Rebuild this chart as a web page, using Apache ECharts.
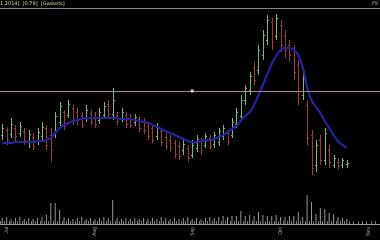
<!DOCTYPE html>
<html><head><meta charset="utf-8">
<script src="https://cdn.jsdelivr.net/npm/echarts@6/dist/echarts.min.js"></script>
<style>html,body{margin:0;padding:0;background:#000;overflow:hidden}#c{width:380px;height:240px}</style>
</head><body><div id="c"></div>
<script>
const slotCount = 86;
const highs  = [1.21,1.18,1.27,1.20,1.23,1.17,1.15,1.12,1.17,1.23,1.20,1.17,1.33,1.43,1.35,1.45,1.40,1.37,1.33,1.40,1.35,1.33,1.37,1.43,1.45,1.57,1.33,1.37,1.33,1.31,1.31,1.29,1.27,1.23,1.20,1.22,1.17,1.12,1.10,1.05,1.03,1.05,1.00,1.05,1.10,1.07,1.12,1.10,1.13,1.17,1.20,1.15,1.27,1.37,1.50,1.60,1.73,1.83,2.00,2.15,2.30,2.27,2.31,2.25,2.15,2.05,2.00,1.85,1.73,1.45,1.15,1.05,1.10,1.17,1.00,0.90,0.87,0.87,0.85];
const lows   = [1.05,1.00,1.07,1.03,1.08,1.00,0.97,0.95,1.00,1.05,0.95,0.83,1.07,1.17,1.15,1.27,1.20,1.20,1.17,1.23,1.20,1.17,1.21,1.27,1.27,1.25,1.20,1.23,1.17,1.17,1.19,1.13,1.11,1.05,1.02,1.05,0.99,0.95,0.93,0.87,0.85,0.90,0.83,0.87,0.93,0.90,0.97,0.95,0.97,0.99,1.05,1.00,1.07,1.17,1.25,1.40,1.50,1.60,1.70,1.85,2.00,1.95,2.05,1.93,1.87,1.83,1.65,1.40,1.45,1.00,0.70,0.73,0.80,0.80,0.77,0.77,0.75,0.77,0.77];
const opens  = [1.10,1.15,1.11,1.17,1.12,1.14,1.03,1.08,1.04,1.09,1.17,1.10,1.11,1.23,1.33,1.30,1.37,1.33,1.29,1.27,1.32,1.27,1.25,1.30,1.41,1.31,1.30,1.27,1.30,1.27,1.23,1.26,1.23,1.19,1.17,1.09,1.14,1.08,1.05,1.02,0.99,0.95,0.97,0.90,0.97,1.04,1.00,1.07,1.01,1.03,1.09,1.12,1.10,1.21,1.29,1.45,1.55,1.77,1.75,1.90,2.05,2.23,2.09,2.20,2.10,2.00,1.95,1.80,1.50,1.40,1.10,0.80,1.05,0.85,0.95,0.80,0.83,0.80,0.81];
const closes = [1.17,1.05,1.21,1.09,1.19,1.05,1.11,0.99,1.13,1.18,1.00,0.95,1.29,1.39,1.19,1.41,1.25,1.25,1.20,1.35,1.23,1.21,1.33,1.39,1.31,1.45,1.24,1.33,1.21,1.20,1.28,1.17,1.15,1.09,1.05,1.17,1.03,0.99,0.97,0.91,0.89,1.01,0.87,1.00,1.06,0.95,1.09,0.99,1.10,1.14,1.17,1.04,1.23,1.33,1.45,1.57,1.69,1.65,1.95,2.10,2.25,2.03,2.27,2.00,1.95,1.90,1.73,1.47,1.67,1.07,0.77,1.00,0.85,1.12,0.83,0.87,0.79,0.85,0.82];
const movingAvg = [1.02,1.02,1.02,1.03,1.03,1.03,1.03,1.03,1.04,1.04,1.05,1.07,1.12,1.17,1.20,1.22,1.24,1.25,1.26,1.27,1.27,1.27,1.27,1.27,1.27,1.27,1.27,1.26,1.26,1.26,1.25,1.24,1.23,1.22,1.20,1.18,1.16,1.14,1.12,1.10,1.08,1.06,1.04,1.03,1.03,1.04,1.05,1.05,1.06,1.08,1.10,1.13,1.16,1.19,1.24,1.29,1.33,1.40,1.50,1.60,1.71,1.81,1.89,1.95,1.97,1.97,1.95,1.90,1.78,1.58,1.45,1.38,1.32,1.24,1.17,1.10,1.04,1.00,0.97];
const volumes = [6000,7000,5000,6000,7000,5000,6000,5000,6000,7000,9000,21000,21000,14000,7000,6000,5000,6000,7000,5000,6000,5000,6000,7000,6000,24000,6000,5000,6000,5000,6000,5000,6000,5000,6000,5000,7000,6000,5000,6000,5000,6000,7000,5000,6000,5000,6000,7000,6000,7000,8000,7000,8000,8000,13000,8000,9000,8000,12000,9000,8000,8000,9000,7000,7000,8000,8000,12000,7000,29000,22000,10000,16000,15000,11000,10000,7000,6000,5000];
const refLevel = 1.54;
const markerIndex = 43;
const tickIndices = [1,21,43,63,83];
const tickLabels = ['Jul','Aug','Sep','Oct','Nov'];
const headerLeft = '1.2014]  [0.79]  [Gaskets]';
const headerRight = 'F9';

const categories = [];
for (let i = 0; i < slotCount; i++) categories.push(String(i));
const ohlc = highs.map((h, i) => [i, opens[i], closes[i], lows[i], h]);
const tickMap = {};
tickIndices.forEach((k, j) => { tickMap[k] = tickLabels[j]; });

const upColor = '#7db57d';
const downColor = '#9a4036';
const chart = echarts.init(document.getElementById('c'), null, {renderer: 'canvas'});
chart.setOption({
  backgroundColor: '#000',
  animation: false,
  graphic: [
    {type: 'text', left: 0, top: 1, style: {text: headerLeft, fill: '#d8d890', font: '5px "DejaVu Sans"'}},
    {type: 'text', right: 2, top: 1, style: {text: headerRight, fill: '#a8b860', font: '5px "DejaVu Sans"'}}
  ],
  grid: [
    {left: 0, right: 0, top: 8, height: 187},
    {left: 0, right: 0, top: 195, height: 29}
  ],
  xAxis: [
    {type: 'category', gridIndex: 0, data: categories, position: 'top', boundaryGap: true,
     axisLine: {lineStyle: {color: '#8a8a8a', width: 1}}, axisTick: {show: false}, axisLabel: {show: false}, splitLine: {show: false}},
    {type: 'category', gridIndex: 1, data: categories, position: 'top', boundaryGap: true,
     axisLine: {lineStyle: {color: '#9a9a9a', width: 1}}, axisTick: {show: false}, axisLabel: {show: false}},
    {type: 'category', gridIndex: 1, data: categories, position: 'bottom', boundaryGap: true,
     axisLine: {lineStyle: {color: '#9a9a9a', width: 1}},
     axisTick: {show: true, inside: true, length: 3, interval: 0, lineStyle: {color: '#7a7a7a'}},
     axisLabel: {show: true, rotate: 90, fontSize: 5, color: '#a0a0a0', margin: 3,
       interval: (idx) => tickMap[idx] !== undefined,
       formatter: (v, idx) => tickMap[idx] || ''}}
  ],
  yAxis: [
    {type: 'value', gridIndex: 0, min: 0.50, max: 2.37, show: false, splitLine: {show: false}},
    {type: 'value', gridIndex: 1, min: 0, max: 29000, show: false, splitLine: {show: false}}
  ],
  series: [
    {type: 'custom', xAxisIndex: 0, yAxisIndex: 0, data: ohlc, encode: {x: 0, y: [1, 2, 3, 4]},
     renderItem: function (params, api) {
       const x = api.value(0);
       const o = api.coord([x, api.value(1)]);
       const c = api.coord([x, api.value(2)]);
       const l = api.coord([x, api.value(3)]);
       const h = api.coord([x, api.value(4)]);
       const col = api.value(2) >= api.value(1) ? upColor : downColor;
       const cx = Math.round(h[0]) + 0.5;
       return {type: 'group', children: [
         {type: 'line', shape: {x1: cx, y1: h[1], x2: cx, y2: l[1]}, style: {stroke: col, lineWidth: 1}},
         {type: 'line', shape: {x1: cx - 1.5, y1: Math.round(o[1]) + 0.5, x2: cx, y2: Math.round(o[1]) + 0.5}, style: {stroke: col, lineWidth: 1}},
         {type: 'line', shape: {x1: cx, y1: Math.round(c[1]) + 0.5, x2: cx + 1.5, y2: Math.round(c[1]) + 0.5}, style: {stroke: col, lineWidth: 1}}
       ]};
     }},
    {type: 'line', xAxisIndex: 0, yAxisIndex: 0, data: movingAvg, smooth: true, symbol: 'none',
     lineStyle: {color: '#2424a4', width: 2.2},
     markLine: {silent: true, symbol: 'none', label: {show: false},
       lineStyle: {color: '#a88888', width: 1, type: 'solid'}, data: [{yAxis: refLevel}]},
     z: 3},
    {type: 'scatter', xAxisIndex: 0, yAxisIndex: 0, data: [[markerIndex, refLevel]], symbol: 'rect', symbolSize: 3,
     itemStyle: {color: '#ffffff'}, z: 5},
    {type: 'bar', xAxisIndex: 2, yAxisIndex: 1, data: volumes, barWidth: 1, itemStyle: {color: '#909a90'}}
  ]
});
</script></body></html>
